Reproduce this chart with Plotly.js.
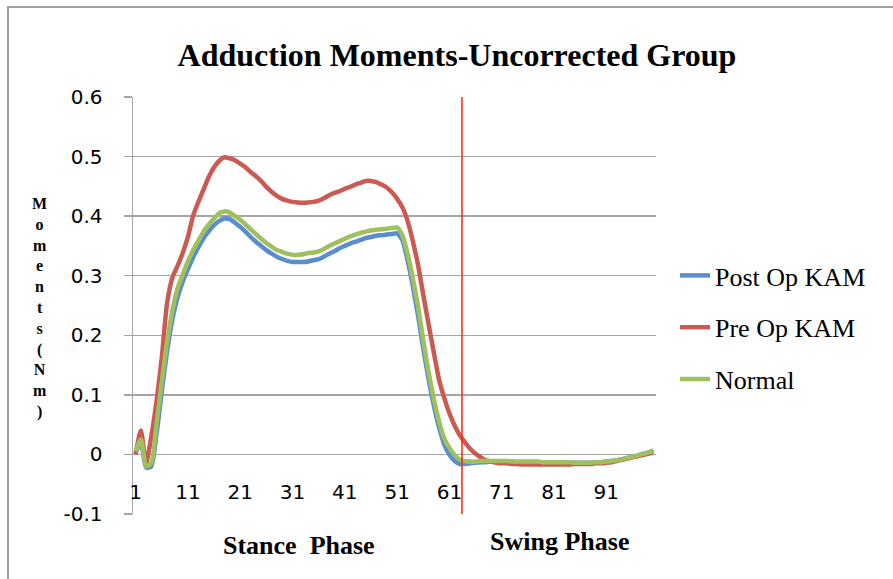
<!DOCTYPE html>
<html>
<head>
<meta charset="utf-8">
<script src="https://cdn.plot.ly/plotly-3.0.1.min.js"></script>
<style>
  html, body { margin: 0; padding: 0; background: #fff; }
  #chart { width: 893px; height: 579px; }
</style>
</head>
<body>
<div id="chart"></div>
<script>
// Data (x = gait cycle sample 1..100)
const samples = Array.from({ length: 100 }, (_, i) => i + 1);

const postOpKAM = [
    0.003, 0.020, -0.022, -0.020, 0.035, 0.105, 0.172, 0.225, 0.263, 0.290,
    0.311, 0.331, 0.348, 0.363, 0.375, 0.385, 0.392, 0.396, 0.395, 0.389,
    0.382, 0.374, 0.365, 0.357, 0.350, 0.343, 0.337, 0.332, 0.328, 0.325,
    0.323, 0.323, 0.323, 0.324, 0.326, 0.328, 0.332, 0.337, 0.341, 0.346,
    0.350, 0.354, 0.357, 0.360, 0.363, 0.365, 0.367, 0.368, 0.369, 0.370,
    0.371, 0.360, 0.326, 0.283, 0.233, 0.178, 0.127, 0.083, 0.046, 0.017,
    0.000, -0.011, -0.016, -0.016, -0.015, -0.014, -0.013, -0.013, -0.012, -0.012,
    -0.012, -0.012, -0.012, -0.013, -0.013, -0.013, -0.013, -0.014, -0.014, -0.014,
    -0.014, -0.014, -0.014, -0.014, -0.014, -0.014, -0.014, -0.014, -0.013, -0.013,
    -0.012, -0.011, -0.010, -0.008, -0.006, -0.004, -0.002, 0.001, 0.003, 0.007
];

const preOpKAM = [
    0.000, 0.040, -0.015, 0.030, 0.089, 0.162, 0.253, 0.296, 0.316, 0.338,
    0.365, 0.401, 0.424, 0.445, 0.466, 0.482, 0.493, 0.499, 0.497, 0.494,
    0.488, 0.482, 0.474, 0.467, 0.459, 0.449, 0.441, 0.434, 0.429, 0.426,
    0.424, 0.423, 0.4225, 0.423, 0.424, 0.426, 0.430, 0.435, 0.439, 0.442,
    0.446, 0.449, 0.453, 0.456, 0.459, 0.459, 0.457, 0.453, 0.448, 0.440,
    0.429, 0.415, 0.392, 0.358, 0.318, 0.268, 0.219, 0.172, 0.126, 0.095,
    0.069, 0.048, 0.032, 0.020, 0.009, 0.001, -0.005, -0.010, -0.012, -0.014,
    -0.015, -0.015, -0.016, -0.016, -0.017, -0.017, -0.017, -0.017, -0.017, -0.017,
    -0.017, -0.017, -0.017, -0.017, -0.016, -0.016, -0.016, -0.016, -0.015, -0.015,
    -0.014, -0.013, -0.011, -0.009, -0.007, -0.005, -0.003, -0.001, 0.001, 0.003
];

const normal = [
    0.005, 0.025, -0.020, -0.015, 0.051, 0.121, 0.188, 0.240, 0.278, 0.302,
    0.324, 0.343, 0.359, 0.374, 0.386, 0.396, 0.405, 0.408, 0.406, 0.400,
    0.394, 0.386, 0.378, 0.370, 0.362, 0.355, 0.349, 0.343, 0.340, 0.337,
    0.335, 0.335, 0.336, 0.338, 0.339, 0.341, 0.345, 0.350, 0.354, 0.358,
    0.362, 0.366, 0.369, 0.372, 0.374, 0.376, 0.377, 0.378, 0.379, 0.380,
    0.381, 0.368, 0.337, 0.296, 0.248, 0.191, 0.139, 0.094, 0.056, 0.027,
    0.011, -0.001, -0.009, -0.011, -0.012, -0.012, -0.011, -0.011, -0.011, -0.011,
    -0.011, -0.011, -0.012, -0.012, -0.012, -0.012, -0.012, -0.012, -0.013, -0.013,
    -0.013, -0.013, -0.013, -0.013, -0.014, -0.014, -0.014, -0.014, -0.013, -0.013,
    -0.012, -0.011, -0.010, -0.008, -0.006, -0.004, -0.002, 0.001, 0.003, 0.006
];

const xTickVals = [1, 11, 21, 31, 41, 51, 61, 71, 81, 91];
const xTickText = ['1', '11', '21', '31', '41', '51', '61', '71', '81', '91'];
const yTickVals = [-0.1, 0, 0.1, 0.2, 0.3, 0.4, 0.5, 0.6];
const yTickText = ['-0.1', '0', '0.1', '0.2', '0.3', '0.4', '0.5', '0.6'];

// where swing phase starts (red marker line)
const swingStart = 63.4;

// Excel stacked the axis title one letter per line
const yTitleChars = ['M', 'o', 'm', 'e', 'n', 't', 's', '(', 'N', 'm', ')'];

const serif = '"Liberation Serif", "Times New Roman", serif';
const sans = '"DejaVu Sans", sans-serif';

// plot area in px (for placing text outside it)
const area = { left: 133, right: 656, top: 97, bottom: 514 };
const px2x = p => (p - area.left) / (area.right - area.left);
const px2y = p => (area.bottom - p) / (area.bottom - area.top);

const traces = [
    { name: 'Post Op KAM', y: postOpKAM, color: '#5A8DCE', group: 'a' },
    { name: 'Pre Op KAM', y: preOpKAM, color: '#CB5A52', group: 'b' },
    { name: 'Normal', y: normal, color: '#9FC05E', group: 'c' },
].map(s => ({
    x: samples,
    y: s.y,
    name: s.name,
    legendgroup: s.group,
    type: 'scatter',
    mode: 'lines',
    line: { color: s.color, width: 4.5, shape: 'spline', smoothing: 0.6 },
}));

const annotations = [
    {
        text: '<b>' + yTitleChars.join('<br>') + '</b>',
        xref: 'paper', yref: 'paper',
        x: px2x(39), y: px2y(308),
        xanchor: 'center', yanchor: 'middle', align: 'center',
        showarrow: false,
        font: { family: serif, size: 16, color: '#000' },
    },
    {
        text: '<b>Stance\u00a0\u00a0Phase</b>',
        xref: 'paper', yref: 'paper', x: px2x(299), y: px2y(545),
        xanchor: 'center', yanchor: 'middle', showarrow: false,
        font: { family: serif, size: 26, color: '#000' },
    },
    {
        text: '<b>Swing Phase</b>',
        xref: 'paper', yref: 'paper', x: px2x(559), y: px2y(541),
        xanchor: 'center', yanchor: 'middle', showarrow: false,
        font: { family: serif, size: 26, color: '#000' },
    },
];

const layout = {
    width: 893,
    height: 579,
    paper_bgcolor: '#fff',
    plot_bgcolor: '#fff',
    margin: { l: area.left, r: 893 - area.right, t: area.top, b: 579 - area.bottom },
    title: {
        text: '<b>Adduction Moments-Uncorrected Group</b>',
        font: { family: serif, size: 32, color: '#000' },
        xref: 'container', x: 457 / 893,
        yref: 'container', y: 1 - 55 / 579, yanchor: 'middle',
    },
    xaxis: {
        range: [0.5, 100.5],
        tickvals: xTickVals,
        ticktext: xTickText,
        anchor: 'free',
        position: px2y(478),
        showline: false,
        showgrid: false,
        zeroline: false,
        ticks: '',
        tickfont: { family: sans, size: 20, color: '#000' },
    },
    yaxis: {
        range: [-0.1, 0.6],
        tickvals: yTickVals,
        ticktext: yTickText,
        showgrid: true,
        gridcolor: '#a6a6a6',
        gridwidth: 1.5,
        zeroline: false,
        showline: true,
        linecolor: '#a6a6a6',
        linewidth: 1.5,
        ticks: 'outside',
        ticklen: 8,
        tickwidth: 1.5,
        tickcolor: '#a6a6a6',
        ticklabelstandoff: 17,
        tickfont: { family: sans, size: 20, color: '#000' },
    },
    legend: {
        x: px2x(675), xanchor: 'left',
        y: px2y(252), yanchor: 'top',
        font: { family: serif, size: 26, color: '#000' },
        tracegroupgap: 15,
        bgcolor: 'rgba(0,0,0,0)',
    },
    shapes: [
        {
            type: 'line', xref: 'x', yref: 'y',
            x0: swingStart, x1: swingStart, y0: -0.1, y1: 0.6,
            line: { color: '#FF2200', width: 1.5 },
        },
        {
            // chart frame (only top and left edges fall inside the picture)
            type: 'rect', xref: 'paper', yref: 'paper',
            x0: px2x(8), x1: px2x(960), y0: px2y(640), y1: px2y(7),
            line: { color: '#a0a0a0', width: 2 },
        },
    ],
    annotations: annotations,
    showlegend: true,
};

Plotly.newPlot('chart', traces, layout, { displayModeBar: false, staticPlot: true });
</script>
</body>
</html>
